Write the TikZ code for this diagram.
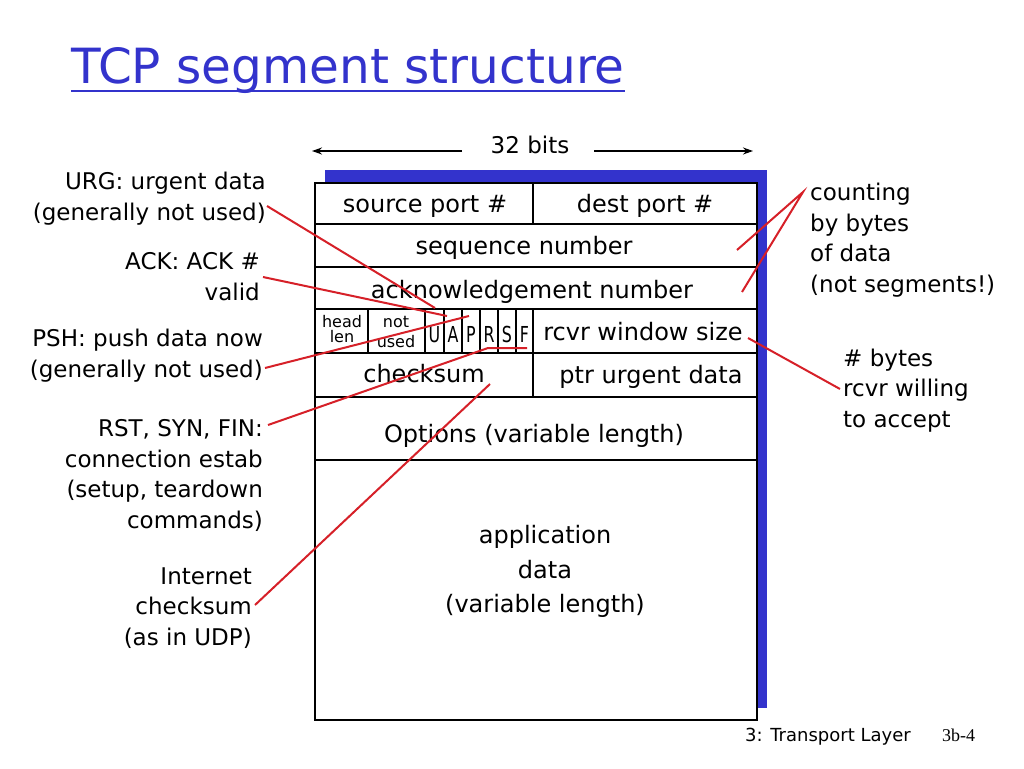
\documentclass[tikz,border=0pt]{standalone}
\usepackage{fontspec}
\usepackage{graphicx}
\setmainfont{DejaVu Sans}
\newfontfamily\pagefont{Liberation Serif}
\usetikzlibrary{arrows.meta}
\definecolor{slideblue}{RGB}{51,51,204}
\definecolor{calloutred}{RGB}{214,32,40}
\newcommand{\narrowletter}[1]{\scalebox{0.72}[1]{#1}}

\begin{document}
\begin{tikzpicture}[x=1pt,y=-1pt,
  every node/.style={inner sep=0pt},
  frame/.style={black,line width=1.8pt},
  fieldtext/.style={anchor=base,font=\fontsize{24}{34}\selectfont},
  smalltext/.style={anchor=base,font=\fontsize{16}{15}\selectfont},
  flagtext/.style={anchor=base,font=\fontsize{22}{22}\selectfont},
  notetext/.style={font=\fontsize{23}{30.5}\selectfont},
  callout/.style={draw=calloutred,line width=2pt}]
\useasboundingbox (0,0) rectangle (1024,768);
% title
\node[anchor=base west,text=slideblue,font=\fontsize{48.5}{52}\selectfont] (title) at (71,83) {TCP segment structure};
\draw[slideblue,line width=2.5pt] ([yshift=-8pt]title.base west) -- ([yshift=-8pt]title.base east);
% width of a row
\node[anchor=base,font=\fontsize{23}{26}\selectfont] (bitslabel) at (530,153) {32 bits};
\coordinate (spanleft) at (312,151);
\coordinate (spanright) at (753,151);
\draw[-{Stealth[length=10pt,width=7pt]},line width=1.8pt] (462,151) -- (spanleft);
\draw[-{Stealth[length=10pt,width=7pt]},line width=1.8pt] (594,151) -- (spanright);
% header frame
\fill[slideblue] (325,170) rectangle (767,708);
\draw[frame,fill=white] (315,183) rectangle (757,720);
\foreach \y in {224,267,309,353,397,460}
  \draw[frame] (315,\y) -- (757,\y);
\draw[frame] (533,183) -- (533,224);
\draw[frame] (533,309) -- (533,397);
\foreach \x in {368,425,444,462,480,498,516}
  \draw[frame,line width=1.4pt] (\x,309) -- (\x,353);
% fields
\node[fieldtext] (srcport) at (425,212) {source port \#};
\node[fieldtext] (dstport) at (645,212) {dest port \#};
\node[fieldtext] (seqnum) at (524,254) {sequence number};
\node[fieldtext] (acknum) at (532,298) {acknowledgement number};
\node[smalltext] (hlentop) at (342,327) {head};
\node[smalltext] (hlenbot) at (342,342) {len};
\node[smalltext] (unusedtop) at (396,327) {not};
\node[smalltext] (unusedbot) at (396,347) {used};
\foreach \f/\x in {U/434.5,A/453,P/471,R/489,S/507,F/524.5}
  \node[flagtext] (flag\f) at (\x,342) {\narrowletter{\f}};
\node[fieldtext] (rcvwnd) at (643,340) {rcvr window size};
\node[fieldtext] (cksum) at (424,382) {checksum};
\node[fieldtext] (urgptr) at (651,383) {ptr urgent data};
\node[fieldtext] (options) at (534,442) {Options (variable length)};
\node[fieldtext] (appline1) at (545,543) {application};
\node[fieldtext] (appline2) at (545,578) {data};
\node[fieldtext] (appline3) at (545,612) {(variable length)};
% notes on the left
\node[notetext,anchor=base east,align=right] (urgnote) at (266,220) {URG: urgent data\\(generally not used)};
\node[notetext,anchor=base east,align=right] (acknote) at (260,300) {ACK: ACK \#\\valid};
\node[notetext,anchor=base east,align=right] (pshnote) at (263,377) {PSH: push data now\\(generally not used)};
\node[notetext,anchor=base east,align=right] (rstnote) at (263,528) {RST, SYN, FIN:\\connection estab\\(setup, teardown\\commands)};
\node[notetext,anchor=base east,align=right] (inetnote) at (252,645) {Internet\\checksum\\(as in UDP)};
% notes on the right
\node[notetext,anchor=base west,align=left] (countnote) at (810,292) {counting\\by bytes\\of data\\(not segments!)};
\node[notetext,anchor=base west,align=left] (bytesnote) at (843,427) {\# bytes\\rcvr willing\\to accept};
% footer
\node[anchor=base west,font=\fontsize{18}{20}\selectfont] (chapter) at (745,741) {3: Transport Layer};
\node[anchor=base west,font=\pagefont\fontsize{18}{20}\selectfont] (pageno) at (942,741) {3b-4};
% callout lines
\coordinate (urgfrom) at (267,206);
\coordinate (urgto) at (435,308);
\coordinate (ackfrom) at (263,277);
\coordinate (ackto) at (447,316);
\coordinate (pshfrom) at (265,368);
\coordinate (pshto) at (469,316);
\coordinate (rstfrom) at (268,425);
\coordinate (rstbend) at (488,348);
\coordinate (rstto) at (527,348);
\coordinate (inetfrom) at (255,605);
\coordinate (inetto) at (490,384);
\coordinate (countfrom) at (803,192);
\coordinate (seqto) at (737,250);
\coordinate (acknumto) at (742,292);
\coordinate (bytesfrom) at (748,338);
\coordinate (bytesto) at (840,389);
\draw[callout] (urgfrom) -- (urgto);
\draw[callout] (ackfrom) -- (ackto);
\draw[callout] (pshfrom) -- (pshto);
\draw[callout] (rstfrom) -- (rstbend) -- (rstto);
\draw[callout] (inetfrom) -- (inetto);
\draw[callout] (seqto) -- (countfrom) -- (acknumto);
\draw[callout] (bytesfrom) -- (bytesto);
\end{tikzpicture}
\end{document}
